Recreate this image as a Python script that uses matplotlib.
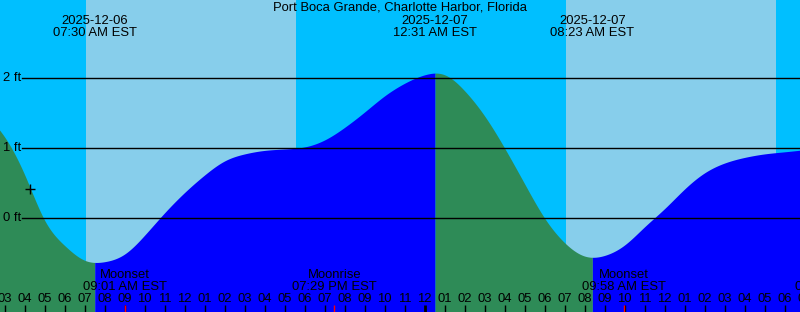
import numpy as np
import matplotlib
matplotlib.use("Agg")
import matplotlib.pyplot as plt

plt.rcParams['font.family'] = ['Liberation Sans', 'DejaVu Sans']

title = "Port Boca Grande, Charlotte Harbor, Florida"

# hours since 2025-12-06 00:00 EST, tide height in ft
tide_hours = list(range(2, 44))
tide_ft = [1.50, 1.16, 0.62, -0.03, -0.39, -0.60, -0.62, -0.51, -0.24, 0.08,
           0.37, 0.62, 0.82, 0.92, 0.97, 0.99, 1.02, 1.12, 1.30, 1.52,
           1.75, 1.93, 2.05, 2.05, 1.82, 1.46, 1.00, 0.49, 0.00, -0.35,
           -0.54, -0.53, -0.38, -0.12, 0.14, 0.42, 0.65, 0.79, 0.87, 0.92,
           0.95, 0.98]

# tide extremes (hours since 12-06 00:00) and their labels
extreme_hours = [7.5, 24.517, 32.383]
extreme_dates = ["2025-12-06", "2025-12-07", "2025-12-07"]
extreme_times = ["07:30 AM EST", "12:31 AM EST", "08:23 AM EST"]
extreme_rising_after = [True, False, True]

# daylight intervals
day_start = [7.07, 31.07]
day_end = [17.57, 41.57]

# moon events
moon_hours = [9.017, 19.483, 33.967, 44.65]
moon_names = ["Moonset", "Moonrise", "Moonset", "Moonrise"]
moon_times = ["09:01 AM EST", "07:29 PM EST", "09:58 AM EST", "08:39 PM EST"]

# reference lines (ft)
ref_levels = [0, 1, 2]
ref_labels = ["0 ft", "1 ft", "2 ft"]

# marker
now_hour = 4.27
now_ft = 0.42

hour_ticks = list(range(2, 44))

x0, x1 = 2.765, 42.765
y0, y1 = -1.339, 3.119

W, H = 800, 312
fig = plt.figure(figsize=(W / 100, H / 100), dpi=100)
ax = fig.add_axes([0, 0, 1, 1])
ax.set_xlim(x0, x1)
ax.set_ylim(y0, y1)
ax.axis('off')
fig.patch.set_facecolor('#00BFFF')
ax.add_patch(plt.Rectangle((0, 0), 1, 1, transform=ax.transAxes, color='#00BFFF', zorder=0))

for a, b in zip(day_start, day_end):
    ax.axvspan(a, b, color='#87CEEB', lw=0, zorder=1)

# natural cubic spline through the hourly readings (for drawing a smooth curve)
t = np.array(tide_hours, float)
h = np.array(tide_ft, float)
n = len(t)
hs = np.diff(t)
A = np.zeros((n, n))
r = np.zeros(n)
A[0, 0] = 1
A[-1, -1] = 1
for i in range(1, n - 1):
    A[i, i - 1] = hs[i - 1]
    A[i, i] = 2 * (hs[i - 1] + hs[i])
    A[i, i + 1] = hs[i]
    r[i] = 6 * ((h[i + 1] - h[i]) / hs[i] - (h[i] - h[i - 1]) / hs[i - 1])
M = np.linalg.solve(A, r)


def tide(tq):
    i = np.clip(np.searchsorted(t, tq) - 1, 0, n - 2)
    d = hs[i]
    a = (t[i + 1] - tq) / d
    b = (tq - t[i]) / d
    return (a * h[i] + b * h[i + 1]
            + ((a**3 - a) * M[i] + (b**3 - b) * M[i + 1]) * d**2 / 6)


bounds = [t[0]] + extreme_hours + [t[-1]]
rising = [not extreme_rising_after[0]] + extreme_rising_after
for (a, b, rr) in zip(bounds[:-1], bounds[1:], rising):
    ts = np.linspace(a, b, 600)
    ax.fill_between(ts, y0 - 1, tide(ts), color='#0000FF' if rr else '#2E8B57',
                    lw=0, zorder=2)

fs = 9.4
for lv, lb in zip(ref_levels, ref_labels):
    ax.axhline(lv, xmin=22 / W, xmax=1, color='black', lw=1.0, zorder=3)
    ax.text(2.7 / W, lv, lb, transform=ax.get_yaxis_transform(), ha='left',
            va='center', fontsize=fs, color='black', zorder=4)

ax.plot([now_hour], [now_ft], marker='+', color='black', ms=7, mew=1.0, zorder=5)

xt = ax.get_xaxis_transform()


def fy(px):
    return 1 - px / H


ax.text(0.5, fy(10.5), title, transform=ax.transAxes, ha='center', va='baseline',
        fontsize=fs, color='black', zorder=6)

for eh, d, tm in zip(extreme_hours, extreme_dates, extreme_times):
    ax.text(eh, fy(24), d, transform=xt, ha='center', va='baseline', fontsize=fs, zorder=6)
    ax.text(eh, fy(35.7), tm, transform=xt, ha='center', va='baseline', fontsize=fs, zorder=6)

for mh, nm, tm in zip(moon_hours, moon_names, moon_times):
    ax.text(mh, fy(278.3), nm, transform=xt, ha='center', va='baseline', fontsize=fs, zorder=6)
    ax.text(mh, fy(289.7), tm, transform=xt, ha='center', va='baseline', fontsize=fs, zorder=6)

for hr in hour_ticks:
    lab = f"{(hr - 1) % 12 + 1:02d}"
    ax.text(hr, fy(302.3), lab, transform=xt, ha='center', va='baseline', fontsize=fs, zorder=6)
    lw = 2.0 if hr % 24 == 0 else 1.0
    ax.plot([hr, hr], [0, 7 / H], transform=xt, color='black', lw=lw, zorder=6,
            solid_capstyle='butt')

for mh in moon_hours:
    ax.plot([mh, mh], [0, 7 / H], transform=xt, color='red', lw=1.0, zorder=7,
            solid_capstyle='butt')

fig.savefig('out.png', dpi=100, facecolor=fig.get_facecolor())
